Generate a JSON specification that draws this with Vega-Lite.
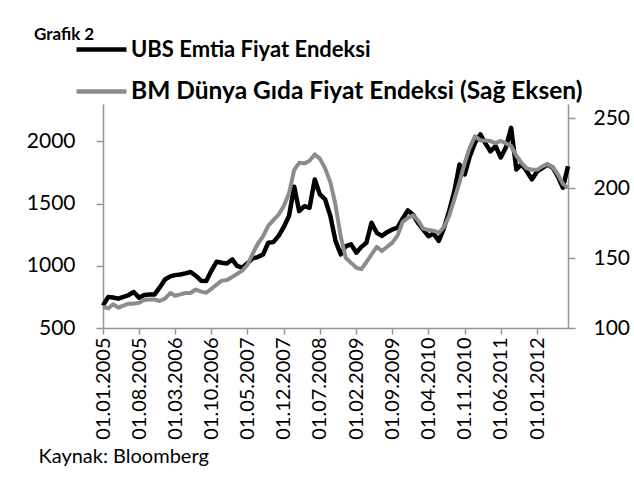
{
  "$schema": "https://vega.github.io/schema/vega-lite/v6.json",
  "width": 465,
  "height": 224,
  "autosize": "none",
  "padding": {"left": 103, "top": 104, "right": 66, "bottom": 149},
  "background": "#ffffff",
  "config": {
    "view": {"stroke": null},
    "font": "Lato",
    "axis": {"domainColor": "#969696", "domainWidth": 1.5, "tickColor": "#969696", "tickWidth": 1.5, "grid": false, "labelColor": "#000000", "labelFont": "Lato"}
  },
  "title": {"text": "Grafik 2", "anchor": "start", "frame": "group", "fontSize": 17, "fontWeight": "bold", "font": "Lato", "color": "#000000", "dx": -69, "offset": 0, "dy": 22},
  "data": {"values": [
    {"date": "2005-01-01", "ubs": 680, "fao": 115},
    {"date": "2005-02-01", "ubs": 750, "fao": 114},
    {"date": "2005-03-01", "ubs": 745, "fao": 117},
    {"date": "2005-04-01", "ubs": 736, "fao": 114.5},
    {"date": "2005-05-01", "ubs": 750, "fao": 116},
    {"date": "2005-06-01", "ubs": 765, "fao": 117.4},
    {"date": "2005-07-01", "ubs": 789, "fao": 117.4},
    {"date": "2005-08-01", "ubs": 744, "fao": 118},
    {"date": "2005-09-01", "ubs": 765, "fao": 120},
    {"date": "2005-10-01", "ubs": 770, "fao": 120.3},
    {"date": "2005-11-01", "ubs": 770, "fao": 120.3},
    {"date": "2005-12-01", "ubs": 826, "fao": 119.3},
    {"date": "2006-01-01", "ubs": 890, "fao": 121},
    {"date": "2006-02-01", "ubs": 915, "fao": 125},
    {"date": "2006-03-01", "ubs": 925, "fao": 123},
    {"date": "2006-04-01", "ubs": 930, "fao": 124},
    {"date": "2006-05-01", "ubs": 939, "fao": 125},
    {"date": "2006-06-01", "ubs": 950, "fao": 125},
    {"date": "2006-07-01", "ubs": 920, "fao": 127.5},
    {"date": "2006-08-01", "ubs": 880, "fao": 126},
    {"date": "2006-09-01", "ubs": 877, "fao": 125.2},
    {"date": "2006-10-01", "ubs": 960, "fao": 128},
    {"date": "2006-11-01", "ubs": 1033, "fao": 131},
    {"date": "2006-12-01", "ubs": 1025, "fao": 133.8},
    {"date": "2007-01-01", "ubs": 1019, "fao": 134.3},
    {"date": "2007-02-01", "ubs": 1051, "fao": 136.5},
    {"date": "2007-03-01", "ubs": 1000, "fao": 138.6},
    {"date": "2007-04-01", "ubs": 985, "fao": 141},
    {"date": "2007-05-01", "ubs": 1020, "fao": 145},
    {"date": "2007-06-01", "ubs": 1060, "fao": 153},
    {"date": "2007-07-01", "ubs": 1070, "fao": 160},
    {"date": "2007-08-01", "ubs": 1090, "fao": 165.5},
    {"date": "2007-09-01", "ubs": 1185, "fao": 173},
    {"date": "2007-10-01", "ubs": 1190, "fao": 177},
    {"date": "2007-11-01", "ubs": 1240, "fao": 181},
    {"date": "2007-12-01", "ubs": 1310, "fao": 187},
    {"date": "2008-01-01", "ubs": 1400, "fao": 196},
    {"date": "2008-02-01", "ubs": 1635, "fao": 213},
    {"date": "2008-03-01", "ubs": 1439, "fao": 218},
    {"date": "2008-04-01", "ubs": 1479, "fao": 217.6},
    {"date": "2008-05-01", "ubs": 1466, "fao": 219.5},
    {"date": "2008-06-01", "ubs": 1694, "fao": 224},
    {"date": "2008-07-01", "ubs": 1573, "fao": 221},
    {"date": "2008-08-01", "ubs": 1533, "fao": 214},
    {"date": "2008-09-01", "ubs": 1399, "fao": 204},
    {"date": "2008-10-01", "ubs": 1200, "fao": 188},
    {"date": "2008-11-01", "ubs": 1092, "fao": 165},
    {"date": "2008-12-01", "ubs": 1158, "fao": 150},
    {"date": "2009-01-01", "ubs": 1172, "fao": 146.5},
    {"date": "2009-02-01", "ubs": 1105, "fao": 143},
    {"date": "2009-03-01", "ubs": 1150, "fao": 142},
    {"date": "2009-04-01", "ubs": 1185, "fao": 147},
    {"date": "2009-05-01", "ubs": 1346, "fao": 152.5},
    {"date": "2009-06-01", "ubs": 1265, "fao": 158},
    {"date": "2009-07-01", "ubs": 1240, "fao": 155},
    {"date": "2009-08-01", "ubs": 1270, "fao": 158},
    {"date": "2009-09-01", "ubs": 1292, "fao": 161},
    {"date": "2009-10-01", "ubs": 1306, "fao": 166},
    {"date": "2009-11-01", "ubs": 1380, "fao": 176},
    {"date": "2009-12-01", "ubs": 1445, "fao": 178.5},
    {"date": "2010-01-01", "ubs": 1410, "fao": 180.5},
    {"date": "2010-02-01", "ubs": 1340, "fao": 176.5},
    {"date": "2010-03-01", "ubs": 1290, "fao": 171},
    {"date": "2010-04-01", "ubs": 1238, "fao": 170},
    {"date": "2010-05-01", "ubs": 1260, "fao": 169.5},
    {"date": "2010-06-01", "ubs": 1200, "fao": 168},
    {"date": "2010-07-01", "ubs": 1300, "fao": 172},
    {"date": "2010-08-01", "ubs": 1440, "fao": 180},
    {"date": "2010-09-01", "ubs": 1600, "fao": 192},
    {"date": "2010-10-01", "ubs": 1814, "fao": 204},
    {"date": "2010-11-01", "ubs": 1734, "fao": 218},
    {"date": "2010-12-01", "ubs": 1880, "fao": 229},
    {"date": "2011-01-01", "ubs": 1990, "fao": 237},
    {"date": "2011-02-01", "ubs": 2055, "fao": 234},
    {"date": "2011-03-01", "ubs": 1988, "fao": 234},
    {"date": "2011-04-01", "ubs": 1919, "fao": 233.5},
    {"date": "2011-05-01", "ubs": 1963, "fao": 232},
    {"date": "2011-06-01", "ubs": 1870, "fao": 233.6},
    {"date": "2011-07-01", "ubs": 1950, "fao": 232},
    {"date": "2011-08-01", "ubs": 2108, "fao": 230},
    {"date": "2011-09-01", "ubs": 1774, "fao": 223},
    {"date": "2011-10-01", "ubs": 1814, "fao": 218},
    {"date": "2011-11-01", "ubs": 1760, "fao": 214},
    {"date": "2011-12-01", "ubs": 1694, "fao": 213},
    {"date": "2012-01-01", "ubs": 1758, "fao": 213},
    {"date": "2012-02-01", "ubs": 1785, "fao": 215.5},
    {"date": "2012-03-01", "ubs": 1814, "fao": 217},
    {"date": "2012-04-01", "ubs": 1790, "fao": 215},
    {"date": "2012-05-01", "ubs": 1720, "fao": 210},
    {"date": "2012-06-01", "ubs": 1627, "fao": 203},
    {"date": "2012-07-01", "ubs": 1800, "fao": 200}
  ]},
  "encoding": {
    "x": {
      "field": "date", "type": "temporal",
      "scale": {"type": "utc", "domain": [{"year": 2005, "month": 1, "date": 1, "utc": true}, {"year": 2012, "month": 7, "date": 1, "utc": true}]},
      "axis": {
        "values": [
          {"year": 2005, "month": 1, "date": 1, "utc": true},
          {"year": 2005, "month": 8, "date": 1, "utc": true},
          {"year": 2006, "month": 3, "date": 1, "utc": true},
          {"year": 2006, "month": 10, "date": 1, "utc": true},
          {"year": 2007, "month": 5, "date": 1, "utc": true},
          {"year": 2007, "month": 12, "date": 1, "utc": true},
          {"year": 2008, "month": 7, "date": 1, "utc": true},
          {"year": 2009, "month": 2, "date": 1, "utc": true},
          {"year": 2009, "month": 9, "date": 1, "utc": true},
          {"year": 2010, "month": 4, "date": 1, "utc": true},
          {"year": 2010, "month": 11, "date": 1, "utc": true},
          {"year": 2011, "month": 6, "date": 1, "utc": true},
          {"year": 2012, "month": 1, "date": 1, "utc": true}
        ],
        "format": "%d.%m.%Y",
        "labelAngle": -90,
        "labelFontSize": 20,
        "tickSize": 6,
        "labelPadding": 3,
        "labelOverlap": false,
        "title": "Kaynak: Bloomberg",
        "titleFont": "Lato",
        "titleFontSize": 20,
        "titleFontWeight": "normal",
        "titleColor": "#000000",
        "titleAnchor": "start",
        "titleAlign": "left",
        "titleBaseline": "alphabetic",
        "titleX": -65,
        "titleY": 134
      }
    }
  },
  "layer": [
    {
      "mark": {"type": "line", "strokeWidth": 4.5, "strokeJoin": "round"},
      "encoding": {
        "y": {
          "field": "ubs", "type": "quantitative",
          "scale": {"domain": [500, 2300], "nice": false, "zero": false},
          "axis": {"orient": "left", "values": [500, 1000, 1500, 2000], "format": "d", "title": null, "labelFontSize": 21, "tickSize": 7, "labelPadding": 21}
        },
        "color": {
          "datum": "UBS Emtia Fiyat Endeksi", "type": "nominal",
          "scale": {"range": ["#000000"]},
          "legend": {"orient": "none", "legendX": -29, "legendY": -82, "title": null, "symbolType": "stroke", "symbolSize": 2500, "symbolStrokeWidth": 4.5, "labelFontSize": 22, "labelFont": "Lato", "labelFontWeight": "bold", "labelColor": "#000000", "labelOffset": 2, "padding": 0, "labelLimit": 600}
        }
      }
    },
    {
      "mark": {"type": "line", "strokeWidth": 4, "strokeJoin": "round"},
      "encoding": {
        "y": {
          "field": "fao", "type": "quantitative",
          "scale": {"domain": [100, 260], "nice": false, "zero": false},
          "axis": {"orient": "right", "values": [100, 150, 200, 250], "format": "d", "title": null, "labelFontSize": 21, "tickSize": 7, "labelPadding": 18}
        },
        "color": {
          "datum": "BM Dünya Gıda Fiyat Endeksi (Sağ Eksen)", "type": "nominal",
          "scale": {"range": ["#8c8c8c"]},
          "legend": {"orient": "none", "legendX": -29, "legendY": -40, "title": null, "symbolType": "stroke", "symbolSize": 2500, "symbolStrokeWidth": 4.5, "labelFontSize": 24.5, "labelFont": "Lato", "labelFontWeight": "bold", "labelColor": "#000000", "labelOffset": 2, "padding": 0, "labelLimit": 600}
        }
      }
    }
  ],
  "resolve": {"scale": {"y": "independent", "color": "independent"}}
}
